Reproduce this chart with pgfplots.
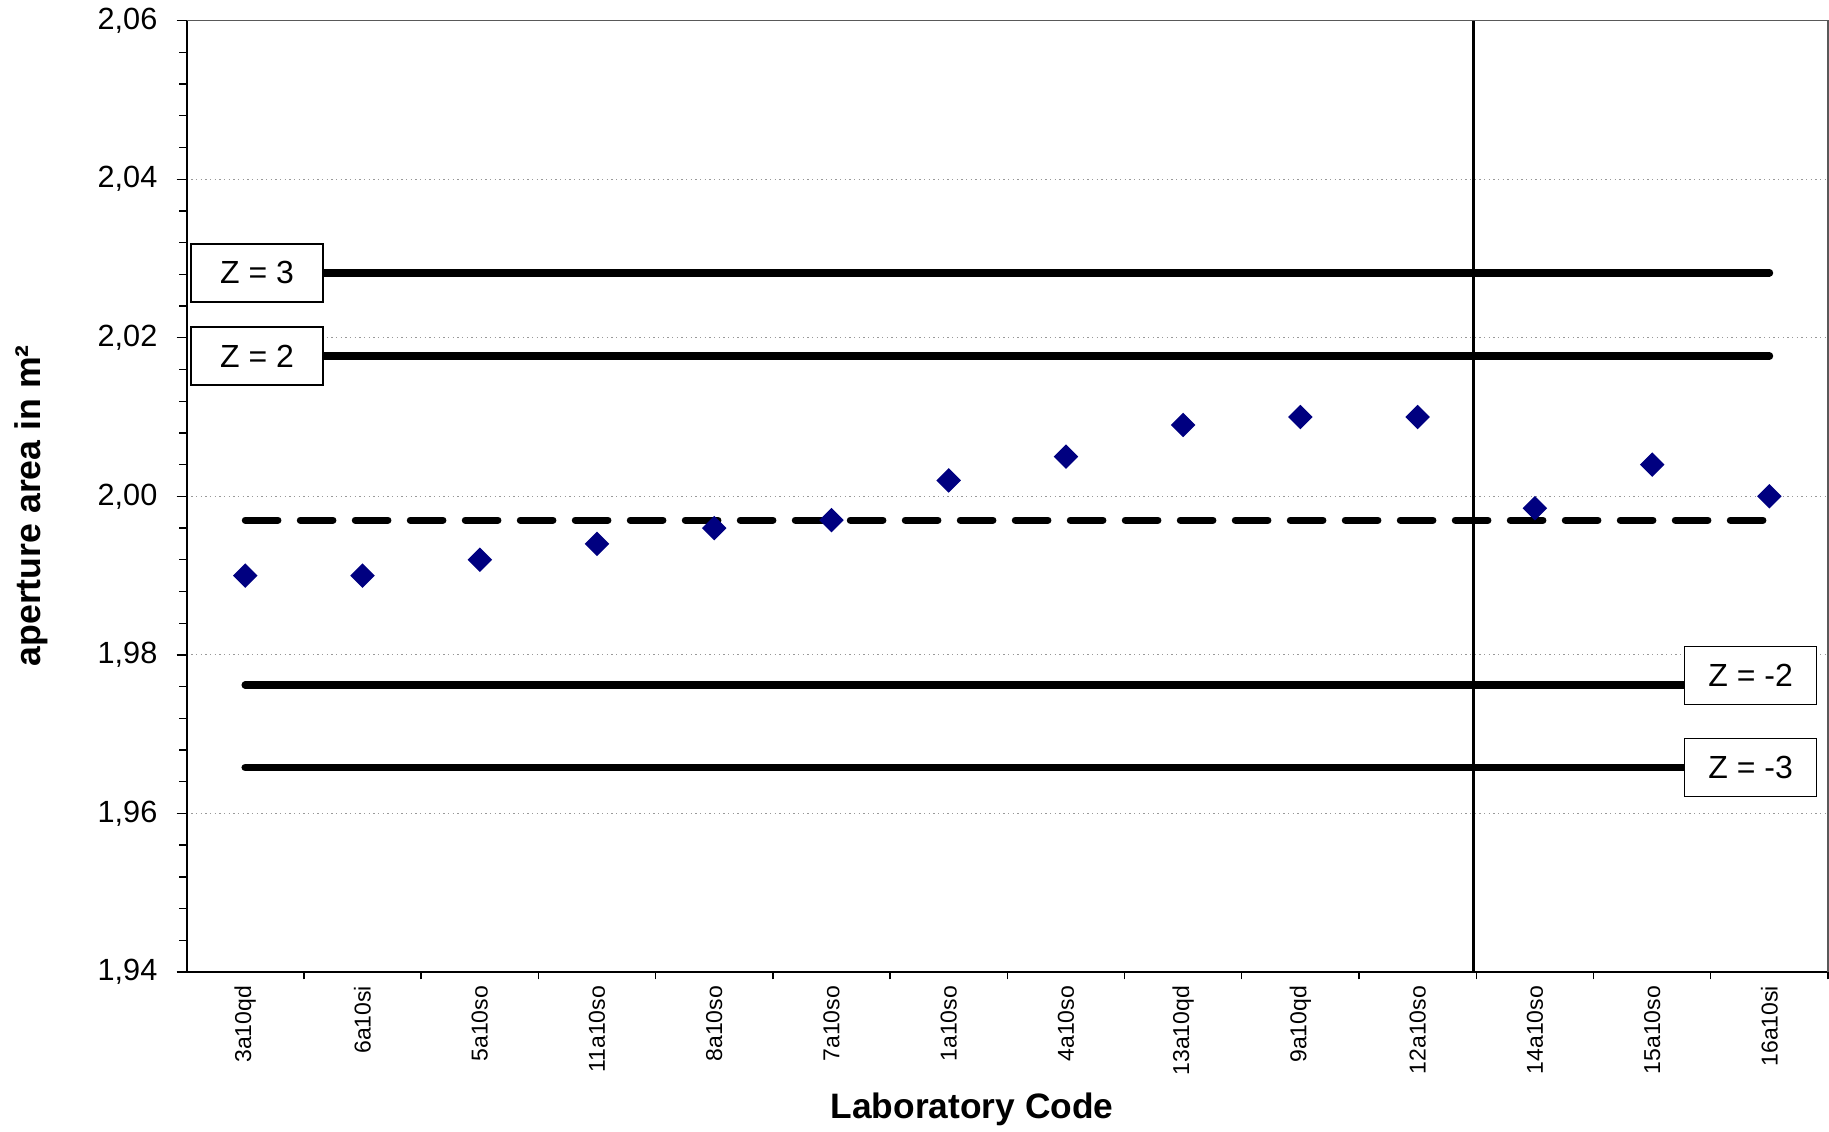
\documentclass[border=0pt]{standalone}
\usepackage{fontspec}
\setmainfont{Liberation Sans}
\usepackage{pgfplots}
\pgfplotsset{compat=1.18}
\definecolor{navy}{RGB}{0,0,128}
\begin{document}
\begin{tikzpicture}
\useasboundingbox (-56pt,-48pt) rectangle (492.7pt,291.6pt);
\begin{axis}[
  at={(0,0)}, anchor=south west,
  scale only axis,
  width=492.4pt, height=285.4pt,
  xmin=-0.5, xmax=13.5,
  ymin=1.94, ymax=2.06,
  axis x line*=bottom, axis y line*=left,
  axis line style={black, line width=0.6pt},
  tick align=outside,
  xtick={0,1,2,3,4,5,6,7,8,9,10,11,12,13},
  xticklabels={3a10qd,6a10si,5a10so,11a10so,8a10so,7a10so,1a10so,4a10so,13a10qd,9a10qd,12a10so,14a10so,15a10so,16a10si},
  major x tick style={draw=none},
  minor xtick={0.5,1.5,2.5,3.5,4.5,5.5,6.5,7.5,8.5,9.5,10.5,11.5,12.5,13.5},
  minor x tick style={black, line width=0.4pt},
  xticklabel style={rotate=90, anchor=east, inner sep=0pt, xshift=-1pt, font=\fontsize{6.9}{8}\selectfont},
  ytick={1.94,1.96,1.98,2.00,2.02,2.04,2.06},
  minor y tick num=4,
  major tick length=3pt, minor tick length=2.2pt,
  every tick/.style={black, line width=0.4pt},
  yticklabel style={anchor=east, inner sep=0pt, xshift=-5.6pt, font=\fontsize{9.2}{11}\selectfont},
  /pgf/number format/.cd, use comma, fixed, fixed zerofill, precision=2, assume math mode=true,
  /pgfplots/.cd,
  ymajorgrids, grid style={densely dotted, gray!80, line width=0.35pt},
  ylabel={aperture area in m²},
  ylabel style={at={(axis description cs:-0.0944,0.49)}, anchor=center, font=\fontsize{10.7}{12}\selectfont\bfseries},
  xlabel={Laboratory Code},
  xlabel style={at={(axis description cs:0.4785,-0.144)}, anchor=center, font=\fontsize{10.6}{12}\selectfont\bfseries},
  clip=false,
]
% plot area border (top, right)
\draw[gray!70!black, line width=0.4pt] (rel axis cs:0,1) -- (rel axis cs:1,1) -- (rel axis cs:1,0);
% vertical separator
\addplot[black, line width=0.7pt] coordinates {(10.475,1.94) (10.475,2.06)};
% Z lines
\addplot[black, line width=2.3pt, line cap=round] coordinates {(0,2.0282) (13,2.0282)};
\addplot[black, line width=2.3pt, line cap=round] coordinates {(0,2.0177) (13,2.0177)};
\addplot[black, line width=2.3pt, line cap=round] coordinates {(0,1.9762) (13,1.9762)};
\addplot[black, line width=2.3pt, line cap=round] coordinates {(0,1.9658) (13,1.9658)};
% mean
\addplot[black, line width=2.1pt, line cap=round, dash pattern=on 9.8pt off 6.7pt] coordinates {(0,1.997) (13,1.997)};
% data
\addplot[only marks, mark=square*, mark size=2.4pt, mark options={rotate=45, fill=navy, draw=navy}] coordinates {
(0,1.990) (1,1.990) (2,1.992) (3,1.994) (4,1.996) (5,1.997) (6,2.002)
(7,2.005) (8,2.009) (9,2.010) (10,2.010) (11,1.9985) (12,2.004) (13,2.000)};
% labels
\tikzset{zbox/.style={draw=black, line width=0.5pt, fill=white, minimum width=39.6pt, minimum height=17.4pt, inner sep=0pt, font=\fontsize{9.6}{11}\selectfont}}
\node[zbox] at (axis cs:0.1,2.0282) {Z = 3};
\node[zbox] at (axis cs:0.1,2.0177) {Z = 2};
\node[zbox] at (axis cs:12.84,1.9774) {Z = -2};
\node[zbox] at (axis cs:12.84,1.9658) {Z = -3};
\end{axis}
\end{tikzpicture}
\end{document}
